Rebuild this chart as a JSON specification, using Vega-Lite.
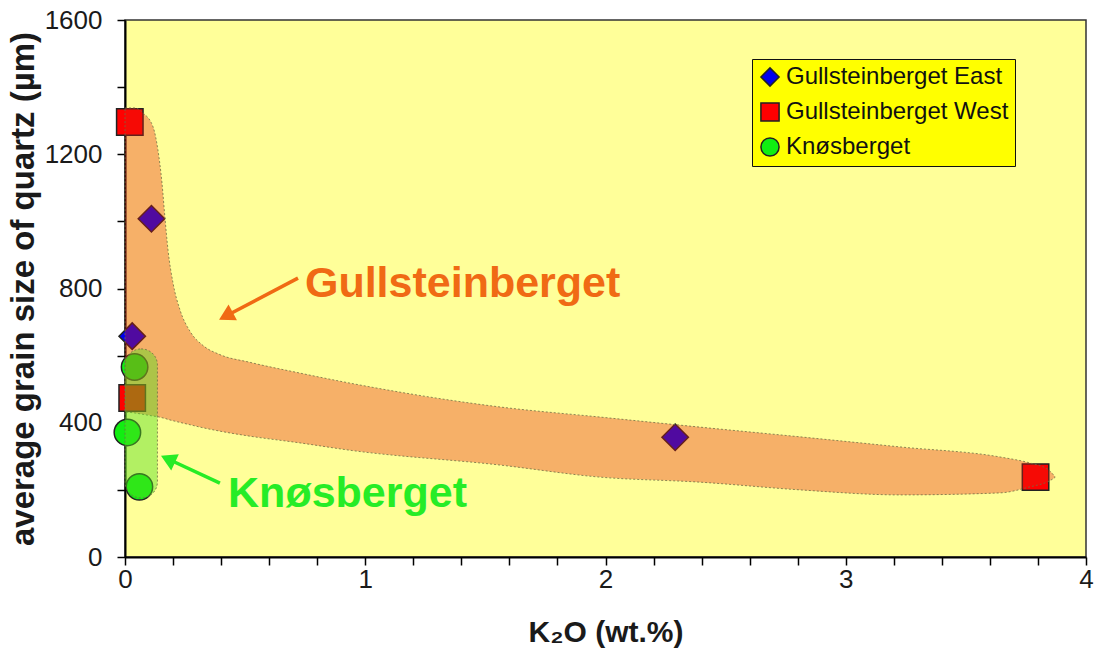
{
  "$schema": "https://vega.github.io/schema/vega-lite/v6.json",
  "width": 961,
  "height": 537,
  "autosize": {"type": "none"},
  "padding": {"left": 125, "top": 20, "right": 10, "bottom": 96},
  "background": "white",
  "config": {
    "view": {"fill": "#FFFF99", "stroke": "#333333", "strokeWidth": 1.5},
    "font": "Liberation Sans",
    "axis": {"grid": false, "domainColor": "#000000", "domainWidth": 2, "tickColor": "#000000", "tickWidth": 1.5, "tickSize": 8, "labelColor": "#1a1a1a", "titleColor": "#1a1a1a", "labelFont": "Liberation Sans", "titleFont": "Liberation Sans"}
  },
  "datasets": {
    "points": [
      {"k2o": 0.11, "grain": 1008, "locality": "Gullsteinberget East"},
      {"k2o": 0.03, "grain": 658, "locality": "Gullsteinberget East"},
      {"k2o": 2.29, "grain": 357, "locality": "Gullsteinberget East"},
      {"k2o": 0.02, "grain": 1296, "locality": "Gullsteinberget West"},
      {"k2o": 0.03, "grain": 474, "locality": "Gullsteinberget West"},
      {"k2o": 3.79, "grain": 238, "locality": "Gullsteinberget West"},
      {"k2o": 0.04, "grain": 566, "locality": "Knøsberget"},
      {"k2o": 0.01, "grain": 371, "locality": "Knøsberget"},
      {"k2o": 0.06, "grain": 209, "locality": "Knøsberget"}
    ],
    "band": [
      {"k2o": 0.0, "upper": 1338, "lower": 432},
      {"k2o": 0.042, "upper": 1338, "lower": 429},
      {"k2o": 0.075, "upper": 1323, "lower": 425},
      {"k2o": 0.117, "upper": 1281, "lower": 420},
      {"k2o": 0.137, "upper": 1213, "lower": 418},
      {"k2o": 0.154, "upper": 1114, "lower": 415},
      {"k2o": 0.166, "upper": 1013, "lower": 413},
      {"k2o": 0.179, "upper": 915, "lower": 410},
      {"k2o": 0.2, "upper": 816, "lower": 406},
      {"k2o": 0.229, "upper": 736, "lower": 401},
      {"k2o": 0.271, "upper": 672, "lower": 394},
      {"k2o": 0.325, "upper": 630, "lower": 385},
      {"k2o": 0.395, "upper": 603, "lower": 375},
      {"k2o": 0.52, "upper": 580, "lower": 360},
      {"k2o": 0.728, "upper": 548, "lower": 340},
      {"k2o": 0.937, "upper": 518, "lower": 318},
      {"k2o": 1.561, "upper": 447, "lower": 274},
      {"k2o": 1.977, "upper": 417, "lower": 238},
      {"k2o": 2.393, "upper": 387, "lower": 223},
      {"k2o": 2.81, "upper": 358, "lower": 200},
      {"k2o": 3.226, "upper": 328, "lower": 185},
      {"k2o": 3.642, "upper": 298, "lower": 191},
      {"k2o": 3.767, "upper": 280, "lower": 209},
      {"k2o": 3.84, "upper": 262, "lower": 224},
      {"k2o": 3.87, "upper": 240, "lower": 236}
    ],
    "pill": [
      {"k2o": 0.0, "k2o_end": 0.135, "grain": 620, "grain_end": 176}
    ],
    "labels": [
      {"k2o": 0.749, "grain": 775, "group": "Gullsteinberget", "label": "Gullsteinberget"},
      {"k2o": 0.429, "grain": 149, "group": "Knøsberget", "label": "Knøsberget"}
    ],
    "arrows": [
      {"group": "Gullsteinberget", "k2o": 0.72, "grain": 831, "k2o_end": 0.42, "grain_end": 718},
      {"group": "Knøsberget", "k2o": 0.395, "grain": 220, "k2o_end": 0.179, "grain_end": 292}
    ]
  },
  "layer": [
    {
      "data": {"name": "points"},
      "mark": {"type": "point", "filled": true, "size": 700, "stroke": "#222222", "strokeWidth": 1.5, "opacity": 1},
      "encoding": {
        "x": {"field": "k2o", "type": "quantitative", "title": "K₂O (wt.%)",
          "scale": {"domain": [0, 4], "nice": false, "zero": false},
          "axis": {"values": [0, 0.2, 0.4, 0.6, 0.8, 1, 1.2, 1.4, 1.6, 1.8, 2, 2.2, 2.4, 2.6, 2.8, 3, 3.2, 3.4, 3.6, 3.8, 4],
            "labelExpr": "abs(datum.value - round(datum.value)) < 0.001 ? format(datum.value, 'd') : ''",
            "labelFontSize": 26, "labelPadding": 1, "labelFlush": false, "labelOverlap": false,
            "titleFontSize": 30, "titleFontWeight": "bold", "titlePadding": 25}},
        "y": {"field": "grain", "type": "quantitative", "title": "average grain size of quartz (µm)",
          "scale": {"domain": [0, 1600], "nice": false},
          "axis": {"values": [0, 100, 200, 300, 400, 500, 600, 700, 800, 900, 1000, 1100, 1200, 1300, 1400, 1500, 1600],
            "format": "d",
            "labelExpr": "datum.value % 400 === 0 ? datum.label : ''",
            "labelFontSize": 26, "labelPadding": 15, "labelFlush": false, "labelOverlap": false,
            "titleFontSize": 33, "titleFontWeight": "bold", "titlePadding": 4}},
        "color": {"field": "locality", "type": "nominal",
          "scale": {"domain": ["Gullsteinberget East", "Gullsteinberget West", "Knøsberget"], "range": ["#0000ee", "#ff0000", "#11ee11"]},
          "legend": {"title": null, "orient": "none", "legendX": 627, "legendY": 39, "fillColor": "#FFFF00", "strokeColor": "#111111", "padding": 6,
            "labelFontSize": 24, "labelFont": "Liberation Sans", "labelColor": "#111111", "labelLimit": 400, "labelOffset": 4,
            "symbolSize": 330, "symbolStrokeColor": "#222222", "symbolStrokeWidth": 1.5, "rowPadding": 9}},
        "shape": {"field": "locality", "type": "nominal",
          "scale": {"domain": ["Gullsteinberget East", "Gullsteinberget West", "Knøsberget"], "range": ["diamond", "square", "circle"]},
          "legend": {"title": null, "orient": "none", "legendX": 627, "legendY": 39, "fillColor": "#FFFF00", "strokeColor": "#111111", "padding": 6,
            "labelFontSize": 24, "labelFont": "Liberation Sans", "labelColor": "#111111", "labelLimit": 400, "labelOffset": 4,
            "symbolSize": 330, "symbolStrokeColor": "#222222", "symbolStrokeWidth": 1.5, "rowPadding": 9}}
      }
    },
    {
      "data": {"name": "band"},
      "mark": {"type": "area", "interpolate": "monotone", "fill": "#e61e0f", "fillOpacity": 0.35, "stroke": "#6f6f45", "strokeWidth": 1, "strokeDash": [2, 2], "strokeOpacity": 0.8},
      "encoding": {
        "x": {"field": "k2o", "type": "quantitative", "title": "K₂O (wt.%)"},
        "y": {"field": "upper", "type": "quantitative", "title": "average grain size of quartz (µm)"},
        "y2": {"field": "lower"}
      }
    },
    {
      "data": {"name": "pill"},
      "mark": {"type": "rect", "cornerRadius": 16, "fill": "#55dd22", "fillOpacity": 0.45, "stroke": "#6f6f45", "strokeWidth": 1, "strokeDash": [2, 2], "strokeOpacity": 0.8},
      "encoding": {
        "x": {"field": "k2o", "type": "quantitative", "title": "K₂O (wt.%)"},
        "x2": {"field": "k2o_end"},
        "y": {"field": "grain", "type": "quantitative", "title": "average grain size of quartz (µm)"},
        "y2": {"field": "grain_end"}
      }
    },
    {
      "data": {"name": "arrows"},
      "transform": [{"filter": "datum.group === 'Gullsteinberget'"}],
      "mark": {"type": "rule", "color": "#f06a14", "strokeWidth": 3.5},
      "encoding": {
        "x": {"field": "k2o", "type": "quantitative", "title": "K₂O (wt.%)"},
        "x2": {"field": "k2o_end"},
        "y": {"field": "grain", "type": "quantitative", "title": "average grain size of quartz (µm)"},
        "y2": {"field": "grain_end"}
      }
    },
    {
      "data": {"name": "arrows"},
      "transform": [{"filter": "datum.group === 'Gullsteinberget'"}],
      "mark": {"type": "point", "shape": "triangle-up", "filled": true, "color": "#f06a14", "opacity": 1, "size": 320, "angle": 242},
      "encoding": {
        "x": {"field": "k2o_end", "type": "quantitative", "title": "K₂O (wt.%)"},
        "y": {"field": "grain_end", "type": "quantitative", "title": "average grain size of quartz (µm)"}
      }
    },
    {
      "data": {"name": "arrows"},
      "transform": [{"filter": "datum.group === 'Knøsberget'"}],
      "mark": {"type": "rule", "color": "#26ec26", "strokeWidth": 3.5},
      "encoding": {
        "x": {"field": "k2o", "type": "quantitative", "title": "K₂O (wt.%)"},
        "x2": {"field": "k2o_end"},
        "y": {"field": "grain", "type": "quantitative", "title": "average grain size of quartz (µm)"},
        "y2": {"field": "grain_end"}
      }
    },
    {
      "data": {"name": "arrows"},
      "transform": [{"filter": "datum.group === 'Knøsberget'"}],
      "mark": {"type": "point", "shape": "triangle-up", "filled": true, "color": "#26ec26", "opacity": 1, "size": 320, "angle": 295},
      "encoding": {
        "x": {"field": "k2o_end", "type": "quantitative", "title": "K₂O (wt.%)"},
        "y": {"field": "grain_end", "type": "quantitative", "title": "average grain size of quartz (µm)"}
      }
    },
    {
      "data": {"name": "labels"},
      "transform": [{"filter": "datum.group === 'Gullsteinberget'"}],
      "mark": {"type": "text", "font": "Liberation Sans", "fontWeight": "bold", "fontSize": 43, "align": "left", "baseline": "alphabetic", "color": "#f06a14"},
      "encoding": {
        "x": {"field": "k2o", "type": "quantitative", "title": "K₂O (wt.%)"},
        "y": {"field": "grain", "type": "quantitative", "title": "average grain size of quartz (µm)"},
        "text": {"field": "label"}
      }
    },
    {
      "data": {"name": "labels"},
      "transform": [{"filter": "datum.group === 'Knøsberget'"}],
      "mark": {"type": "text", "font": "Liberation Sans", "fontWeight": "bold", "fontSize": 43, "align": "left", "baseline": "alphabetic", "color": "#26ec26"},
      "encoding": {
        "x": {"field": "k2o", "type": "quantitative", "title": "K₂O (wt.%)"},
        "y": {"field": "grain", "type": "quantitative", "title": "average grain size of quartz (µm)"},
        "text": {"field": "label"}
      }
    }
  ]
}
